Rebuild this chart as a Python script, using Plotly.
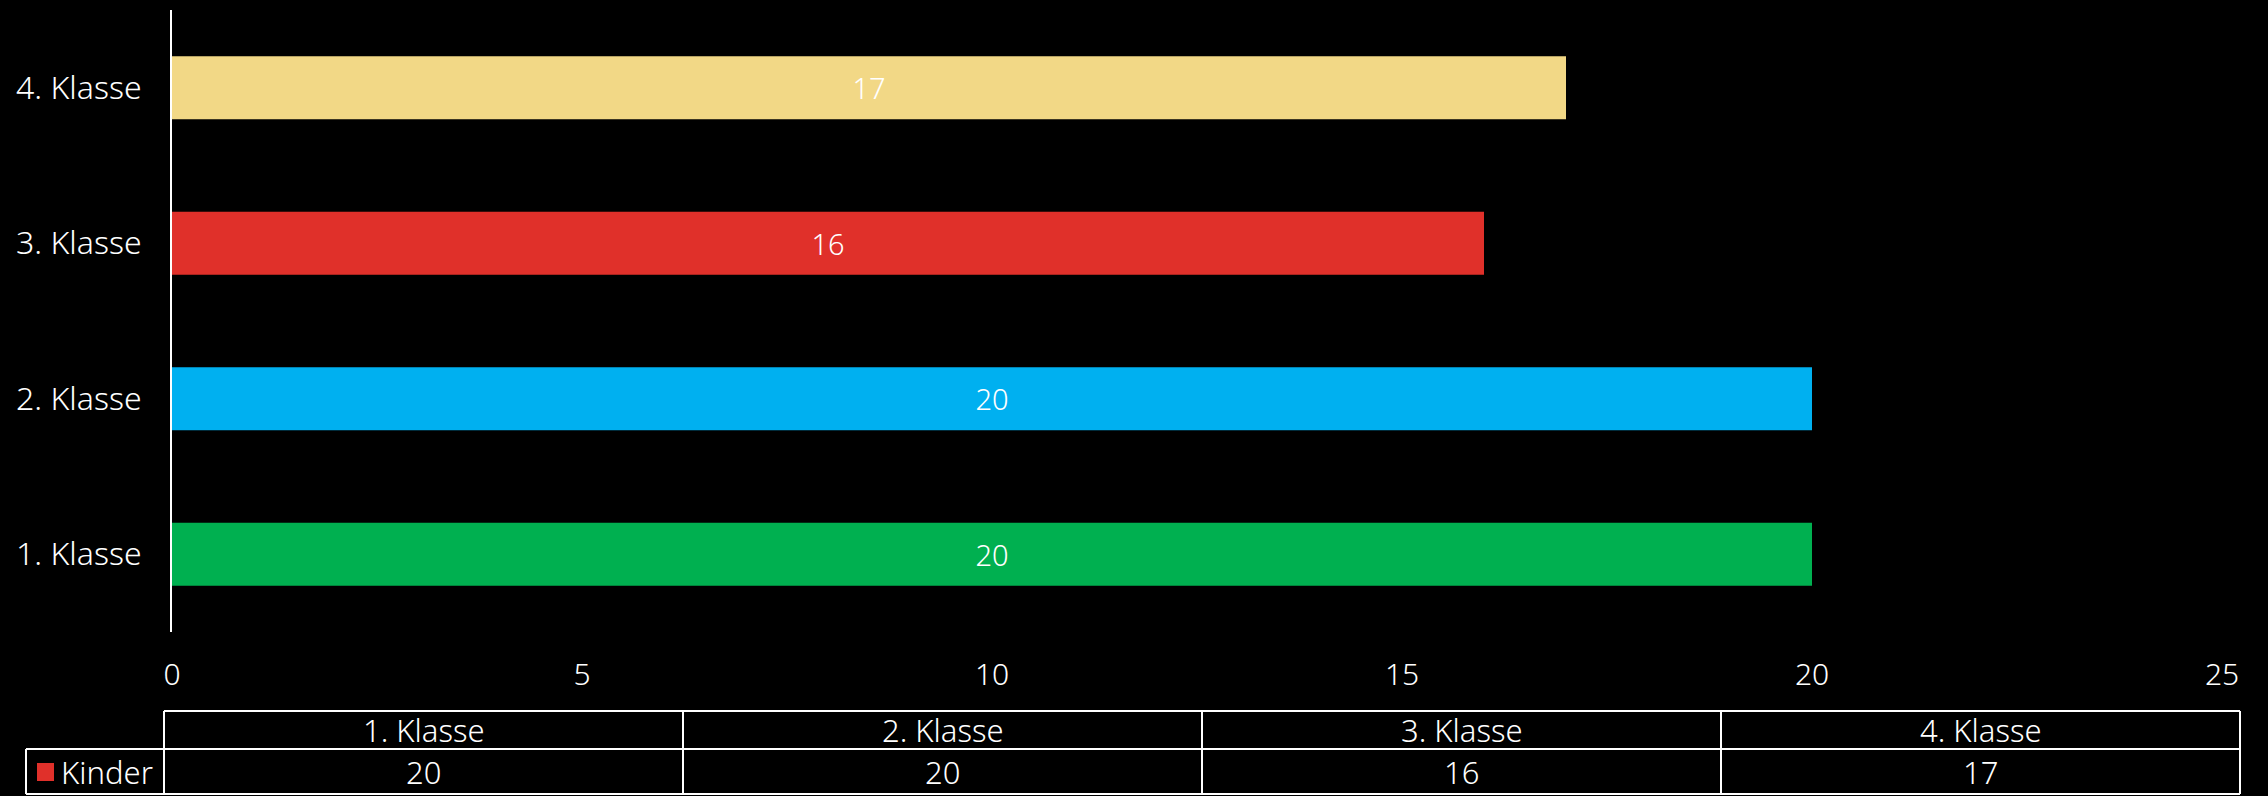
import plotly.graph_objects as go

# ---- data ----
categories = ["1. Klasse", "2. Klasse", "3. Klasse", "4. Klasse"]
kinder = [20, 20, 16, 17]
bar_colors = ["#00B050", "#00B0F0", "#E0302A", "#F2D886"]
series_name = "Kinder"
series_color = "#E0302A"
x_ticks = [0, 5, 10, 15, 20, 25]

FONT = "Century Gothic, Noto Sans, sans-serif"
FS = 29
FW = 300
W, H = 2268, 796
L, R, T, B = 172, 46, 10, 164
pw = W - L - R
ph = H - T - B


def pxx(x):
    return (x - L) / pw


def pxy(y):
    return (H - B - y) / ph


def fnt(size=FS):
    return dict(family=FONT, size=size, color="white", weight=FW)


fig = go.Figure()
fig.add_trace(go.Bar(
    y=categories, x=kinder, orientation="h",
    marker=dict(color=bar_colors, line=dict(width=0)),
    width=0.405,
    text=[str(v) for v in kinder], textposition="inside",
    insidetextanchor="middle",
    textfont=fnt(),
    name=series_name, showlegend=False, hoverinfo="x+y",
))

# ---- data table below chart ----
tbl_left, tbl_right = 164, 2240
leg_left = 26
y_top, y_mid, y_bot = 711, 749, 794
n = len(categories)
colw = (tbl_right - tbl_left) / n
line = dict(color="white", width=2)
shapes = []


def hline(x0, x1, y):
    shapes.append(dict(type="line", xref="paper", yref="paper",
                       x0=pxx(x0), x1=pxx(x1), y0=pxy(y), y1=pxy(y), line=line))


def vline(x, y0, y1):
    shapes.append(dict(type="line", xref="paper", yref="paper",
                       x0=pxx(x), x1=pxx(x), y0=pxy(y0), y1=pxy(y1), line=line))


hline(tbl_left, tbl_right, y_top)
hline(leg_left, tbl_right, y_mid)
hline(leg_left, tbl_right, y_bot)
vline(leg_left, y_mid, y_bot)
for i in range(n + 1):
    vline(tbl_left + i * colw, y_top, y_bot)

shapes.append(dict(type="rect", xref="paper", yref="paper",
                   x0=pxx(37), x1=pxx(54), y0=pxy(781), y1=pxy(763),
                   fillcolor=series_color, line=dict(width=0)))

TFS = 31
annotations = []
for i, (c, v) in enumerate(zip(categories, kinder)):
    cx = tbl_left + (i + 0.5) * colw
    annotations.append(dict(text=c, x=pxx(cx), y=pxy((y_top + y_mid) / 2),
                            xref="paper", yref="paper", showarrow=False,
                            xanchor="center", yanchor="middle", font=fnt(TFS)))
    annotations.append(dict(text=str(v), x=pxx(cx), y=pxy((y_mid + y_bot) / 2),
                            xref="paper", yref="paper", showarrow=False,
                            xanchor="center", yanchor="middle", font=fnt(TFS)))
annotations.append(dict(text=series_name, x=pxx(59), y=pxy((y_mid + y_bot) / 2),
                        xref="paper", yref="paper", showarrow=False,
                        xanchor="left", yanchor="middle", font=fnt(TFS)))

fig.update_layout(
    width=W, height=H,
    margin=dict(l=L, r=R, t=T, b=B, pad=0),
    paper_bgcolor="black", plot_bgcolor="black",
    font=fnt(),
    xaxis=dict(range=[0, 25], tickvals=x_ticks, showgrid=False, zeroline=False,
               showline=False, ticks="", ticklabelstandoff=22,
               tickfont=fnt(30), fixedrange=True),
    yaxis=dict(categoryorder="array", categoryarray=categories,
               showgrid=False, zeroline=False, showline=True, linecolor="white",
               linewidth=2, ticks="", ticklabelstandoff=22,
               tickfont=fnt(32), fixedrange=True),
    shapes=shapes, annotations=annotations, showlegend=False,
    bargap=0.6,
)

fig.write_html("out.html", config={"displayModeBar": False},
               post_script="document.body.style.margin='0';document.body.style.background='black';")
